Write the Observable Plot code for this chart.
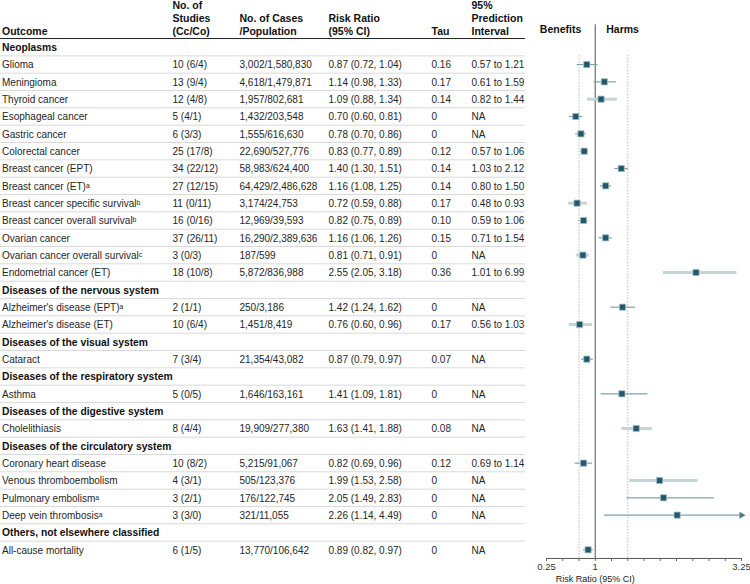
<!DOCTYPE html>
<html><head><meta charset="utf-8">
<script src="https://cdn.jsdelivr.net/npm/d3@7"></script>
<script src="https://cdn.jsdelivr.net/npm/@observablehq/plot@0.6"></script>
<style>body{margin:0;background:#fff}#chart{width:750px;height:584px}</style>
</head><body><div id="chart"></div>
<script>
// ---- data ----
const outcomes = [
  "Neoplasms",
  "Glioma","Meningioma","Thyroid cancer","Esophageal cancer","Gastric cancer","Colorectal cancer",
  "Breast cancer (EPT)","Breast cancer (ET)ᵃ","Breast cancer specific survivalᵇ","Breast cancer overall survivalᵇ",
  "Ovarian cancer","Ovarian cancer overall survivalᶜ","Endometrial cancer (ET)",
  "Diseases of the nervous system",
  "Alzheimer's disease (EPT)ᵃ","Alzheimer's disease (ET)",
  "Diseases of the visual system",
  "Cataract",
  "Diseases of the respiratory system",
  "Asthma",
  "Diseases of the digestive system",
  "Cholelithiasis",
  "Diseases of the circulatory system",
  "Coronary heart disease","Venous thromboembolism","Pulmonary embolismᵃ","Deep vein thrombosisᵃ",
  "Others, not elsewhere classified",
  "All-cause mortality"
];
const studies = [
  null,
  "10 (6/4)","13 (9/4)","12 (4/8)","5 (4/1)","6 (3/3)","25 (17/8)",
  "34 (22/12)","27 (12/15)","11 (0/11)","16 (0/16)",
  "37 (26/11)","3 (0/3)","18 (10/8)",
  null,
  "2 (1/1)","10 (6/4)",
  null,
  "7 (3/4)",
  null,
  "5 (0/5)",
  null,
  "8 (4/4)",
  null,
  "10 (8/2)","4 (3/1)","3 (2/1)","3 (3/0)",
  null,
  "6 (1/5)"
];
const cases = [
  null,
  "3,002/1,580,830","4,618/1,479,871","1,957/802,681","1,432/203,548","1,555/616,630","22,690/527,776",
  "58,983/624,400","64,429/2,486,628","3,174/24,753","12,969/39,593",
  "16,290/2,389,636","187/599","5,872/836,988",
  null,
  "250/3,186","1,451/8,419",
  null,
  "21,354/43,082",
  null,
  "1,646/163,161",
  null,
  "19,909/277,380",
  null,
  "5,215/91,067","505/123,376","176/122,745","321/11,055",
  null,
  "13,770/106,642"
];
const riskRatio = [null,0.87,1.14,1.09,0.70,0.78,0.83,1.40,1.16,0.72,0.82,1.16,0.81,2.55,null,1.42,0.76,null,0.87,null,1.41,null,1.63,null,0.82,1.99,2.05,2.26,null,0.89];
const ciLow     = [null,0.72,0.98,0.88,0.60,0.70,0.77,1.30,1.08,0.59,0.75,1.06,0.71,2.05,null,1.24,0.60,null,0.79,null,1.09,null,1.41,null,0.69,1.53,1.49,1.14,null,0.82];
const ciHigh    = [null,1.04,1.33,1.34,0.81,0.86,0.89,1.51,1.25,0.88,0.89,1.26,0.91,3.18,null,1.62,0.96,null,0.97,null,1.81,null,1.88,null,0.96,2.58,2.83,4.49,null,0.97];
const tau = [null,"0.16","0.17","0.14","0","0","0.12","0.14","0.14","0.17","0.10","0.15","0","0.36",null,"0","0.17",null,"0.07",null,"0",null,"0.08",null,"0.12","0","0","0",null,"0"];
const predInterval = [null,"0.57 to 1.21","0.61 to 1.59","0.82 to 1.44","NA","NA","0.57 to 1.06","1.03 to 2.12","0.80 to 1.50","0.48 to 0.93","0.59 to 1.06","0.71 to 1.54","NA","1.01 to 6.99",null,"NA","0.56 to 1.03",null,"NA",null,"NA",null,"NA",null,"0.69 to 1.14","NA","NA","NA",null,"NA"];
// CI line type as drawn in the figure (A = thin dark, B = pale wide)
const ciType = [null,"A","A","B","A","A","A","A","A","B","A","A","B","B",null,"A","B",null,"A",null,"A",null,"B",null,"A","B","A","A",null,"A"];
const headers = ["Outcome","No. of\nStudies\n(Cc/Co)","No. of Cases\n/Population","Risk Ratio\n(95% CI)","Tau","95%\nPrediction\nInterval"];
const xTicks = [0.25,0.5,0.75,1,1.25,1.5,1.75,2,2.25,2.5,2.75,3,3.25];
const xTickLabels = [0.25,1,3.25];
const refLine = 1;
const dottedLines = [0.75,1.5];

// ---- layout ----
const colX = [1.5,172,239,328,431,471];
const font = "'Liberation Sans', Arial, Helvetica, sans-serif";
const xMax = 3.25;

const rows = outcomes.map((o,i)=>({i, outcome:o, section: studies[i]==null, studies:studies[i], cases:cases[i],
  rr:riskRatio[i], lo:ciLow[i], hi:ciHigh[i], tau:tau[i], pi:predInterval[i], type:ciType[i]}));
const items = rows.filter(d=>!d.section);
const sections = rows.filter(d=>d.section);
const f2 = v => v.toFixed(2);
items.forEach(d => d.rrText = `${f2(d.rr)} (${f2(d.lo)}, ${f2(d.hi)})`);
const nRows = rows.length;

const marks = [];
// table grid
marks.push(Plot.ruleY(d3.range(0.5, nRows-1, 1), {insetRight:225, stroke:"#d9d9d9", strokeWidth:1}));
marks.push(Plot.ruleY([-0.5], {insetRight:225, stroke:"#222", strokeWidth:1}));
// headers
headers.forEach((h,k)=>{
  marks.push(Plot.text([h], {frameAnchor:"left", dx:colX[k], y:-1, dy:5.5, lineAnchor:"bottom", lineHeight:1.25,
    textAnchor:"start", fontWeight:"bold", fontSize:10.5, fill:"#111"}));
});
// section titles
marks.push(Plot.text(sections, {frameAnchor:"left", dx:colX[0], y:"i", dy:0.5, text:"outcome", textAnchor:"start", fontWeight:"bold", fontSize:10.3, fill:"#111"}));
// body columns
const bodyCols = ["outcome","studies","cases","rrText","tau","pi"];
bodyCols.forEach((c,k)=>{
  marks.push(Plot.text(items, {frameAnchor:"left", dx:colX[k], y:"i", dy:0.5, text:c, textAnchor:"start", fontSize:10, fill:"#262626"}));
});
// forest reference lines
marks.push(Plot.ruleX([refLine], {y1:-1.3, y2:nRows-0.5, stroke:"#707070", strokeWidth:1.2}));
marks.push(Plot.ruleX(dottedLines, {y1:0.5, y2:nRows-0.5, stroke:"#9a9a9a", strokeWidth:1, strokeDasharray:"1,2"}));
// axis
marks.push(Plot.ruleY([nRows-0.5], {x1:xTicks[0], x2:xTicks[xTicks.length-1], stroke:"#555"}));
marks.push(Plot.axisX({ticks:xTicks, tickSize:3, tickPadding:2, anchor:"bottom", label:null, fontSize:9.5, stroke:"#666", color:"#333",
  tickFormat: d => xTickLabels.includes(d) ? String(d) : ""}));
marks.push(Plot.text(["Risk Ratio (95% CI)"], {x:refLine, frameAnchor:"bottom", dy:23, fontSize:9, fill:"#222"}));
// benefits / harms
marks.push(Plot.text(["Benefits"], {x:refLine, y:-1, dx:-14, textAnchor:"end", fontWeight:"bold", fontSize:10.5, fill:"#111"}));
marks.push(Plot.text(["Harms"], {x:refLine, y:-1, dx:11, textAnchor:"start", fontWeight:"bold", fontSize:10.5, fill:"#111"}));
// CI lines
marks.push(Plot.ruleY(items.filter(d=>d.type==="B"), {y:"i", x1:"lo", x2:d=>Math.min(d.hi,xMax), stroke:"#c4d5d8", strokeWidth:3}));
marks.push(Plot.ruleY(items.filter(d=>d.type==="A"), {y:"i", x1:"lo", x2:d=>Math.min(d.hi,xMax), stroke:"#7fa3aa", strokeWidth:1.2}));
marks.push(Plot.dot(items.filter(d=>d.hi>xMax), {x:()=>xMax, y:"i", symbol:"triangle", rotate:90, r:2.6, fill:"#4d7f89", stroke:"none"}));
// point estimates
marks.push(Plot.dot(items, {x:"rr", y:"i", symbol:"square", r:3.5, fill:"#22586a", stroke:"#a9c1c7", strokeWidth:0.8}));

const chart = Plot.plot({
  width:750, height:584,
  marginTop:0, marginRight:0, marginBottom:26, marginLeft:0,
  style:{fontFamily:font, fontSize:"10px", background:"#fff", color:"#222"},
  x:{domain:[0.25,3.25], range:[546,741]},
  y:{domain:[0,nRows-1], range:[46.7,549.3], axis:null},
  marks
});
document.getElementById("chart").appendChild(chart);
</script>
</body></html>
